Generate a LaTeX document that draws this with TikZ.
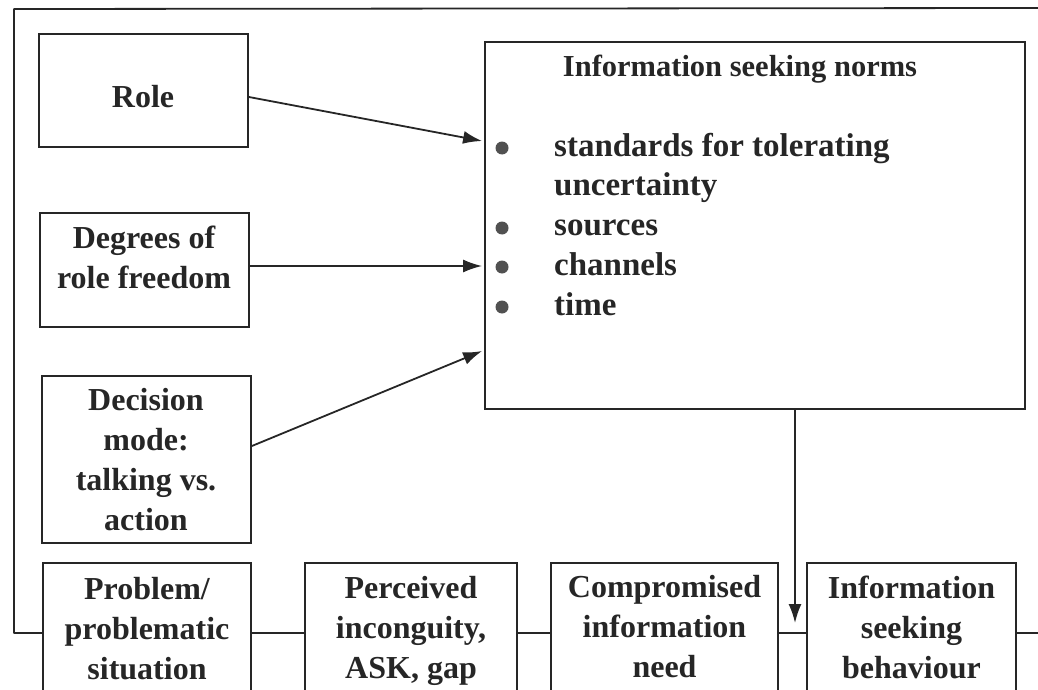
\documentclass[tikz,border=0pt]{standalone}
\usepackage{fontspec}
\setmainfont{Liberation Serif}
\usetikzlibrary{arrows.meta}
\definecolor{ink}{HTML}{262626}
\begin{document}
\begin{tikzpicture}[x=1pt,y=-1pt,
  box/.style={draw=ink, line width=1.8pt, inner sep=0pt},
  lbl/.style={text=ink, inner sep=0pt, align=center, font=\bfseries\fontsize{32}{40}\selectfont},
  item/.style={text=ink, inner sep=0pt, anchor=base west, font=\bfseries\fontsize{33}{40}\selectfont},
  dot/.style={circle, fill=ink!80, inner sep=0pt, minimum size=13pt},
  conn/.style={draw=ink, line width=1.8pt},
  arr/.style={conn, -{Latex[length=19pt,width=13pt]}}]
\useasboundingbox (0,0) rectangle (1038,690);
\clip (0,0) rectangle (1038,690);
% boxes
\node[box, minimum width=209pt, minimum height=113pt] (role) at (143.5,90.5) {};
\node[box, minimum width=209pt, minimum height=114pt] (deg) at (144.5,270) {};
\node[box, minimum width=209pt, minimum height=167pt] (dec) at (146.5,459.5) {};
\node[box, minimum width=540pt, minimum height=367pt] (norms) at (755,225.5) {};
\node[box, minimum width=208pt, minimum height=131pt] (prob) at (147,628.5) {};
\node[box, minimum width=212pt, minimum height=131pt] (perc) at (411,628.5) {};
\node[box, minimum width=227pt, minimum height=131pt] (comp) at (664.5,628.5) {};
\node[box, minimum width=209pt, minimum height=131pt] (info) at (911.5,628.5) {};
% labels
\node[lbl] (roleT) at (143,96.5) {Role};
\node[lbl] (degT) at (144,257) {Degrees of\\role freedom};
\node[lbl] (decT) at (146,459.5) {Decision\\mode:\\talking vs.\\action};
\node[lbl] (probT) at (147,629) {Problem/\\problematic\\situation};
\node[lbl] (percT) at (411,631) {Perceived\\inconguity,\\ASK, gap};
\node[lbl] (compT) at (664.5,626.5) {Compromised\\information\\need};
\node[lbl] (infoT) at (911.5,627) {Information\\seeking\\behaviour};
% norms content
\node[text=ink, inner sep=0pt, anchor=base, font=\bfseries\fontsize{30.5}{40}\selectfont] (normsT) at (740,77) {Information seeking norms};
\node[item] (i1) at (554,156) {standards for tolerating};
\node[item] (i1b) at (554,195) {uncertainty};
\node[item] (i2) at (554,235) {sources};
\node[item] (i3) at (554,275) {channels};
\node[item] (i4) at (554,315) {time};
\node[dot] (b1) at (502,148) {};
\node[dot] (b2) at (502,228) {};
\node[dot] (b3) at (502,267) {};
\node[dot] (b4) at (502,307) {};
% frame and flow line
\coordinate (ftr) at (1040,8);
\coordinate (ftl) at (14,9);
\coordinate (fbl) at (14,633);
\coordinate (rend) at (1040,633);
\draw[conn, line join=round] (ftr) -- (ftl) -- (fbl) -- (fbl -| prob.west);
\draw[conn] (fbl -| prob.east) -- (fbl -| perc.west);
\draw[conn] (fbl -| perc.east) -- (fbl -| comp.west);
\draw[conn] (fbl -| comp.east) -- (fbl -| info.west);
\draw[conn] (fbl -| info.east) -- (rend);
% arrows into norms
\coordinate (n1) at ([xshift=-2pt]norms.west |- 0,141);
\coordinate (n2) at ([xshift=-2pt]norms.west |- 0,266);
\coordinate (n3) at ([xshift=-2pt]norms.west |- 0,351);
\draw[arr] (role.east |- 0,97) -- (n1);
\draw[arr] (deg.east |- 0,266) -- (n2);
\draw[arr] (dec.east |- 0,446) -- (n3);
% norms down to behaviour
\coordinate (vend) at (795,623);
\draw[arr] (norms.south -| vend) -- (vend);
\end{tikzpicture}
\end{document}
